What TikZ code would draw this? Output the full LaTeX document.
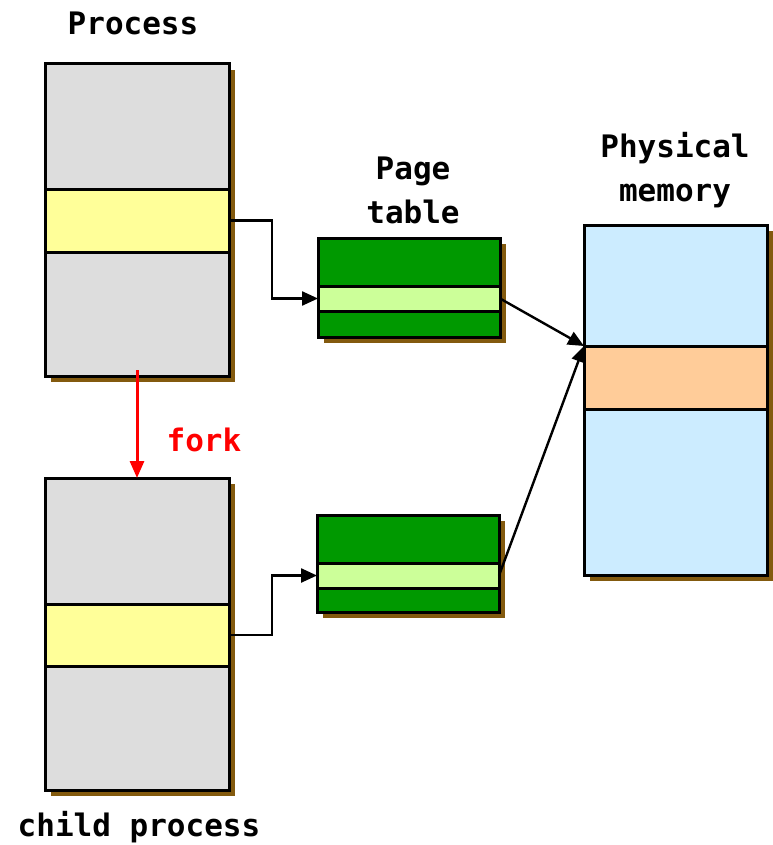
\documentclass[tikz,border=0pt]{standalone}
\usepackage{fontspec}
\setmonofont{DejaVu Sans Mono}
\usetikzlibrary{shadows,arrows.meta}
\definecolor{boxgray}{HTML}{DDDDDD}
\definecolor{bandyellow}{HTML}{FFFF99}
\definecolor{ptgreen}{HTML}{009900}
\definecolor{ptlight}{HTML}{CCFF99}
\definecolor{memblue}{HTML}{CCECFF}
\definecolor{memorange}{HTML}{FFCC99}
\definecolor{shadowbrown}{HTML}{835A0E}
\tikzset{
  box/.style={draw=black, line width=3pt, inner sep=0pt, outer sep=0pt,
    drop shadow={shadow xshift=6pt, shadow yshift=-6pt, fill=shadowbrown, opacity=1}},
  band/.style={draw=black, line width=3pt, inner sep=0pt, outer sep=0pt},
  lbl/.style={font=\ttfamily\bfseries\fontsize{31}{44}\selectfont, align=center, inner sep=0pt},
  conn/.style={line width=2.4pt, -{Triangle[length=16pt,width=14pt]}},
  forkarrow/.style={red, line width=3pt, -{Triangle[length=17pt,width=14pt]}}
}
\begin{document}
\begin{tikzpicture}[x=1pt,y=-1pt]
\path[use as bounding box, fill=white] (0,0) rectangle (772,845);

% Process
\node[box, fill=boxgray, minimum width=184pt, minimum height=312pt] (proc) at (137,220) {};
\node[band, fill=bandyellow, minimum width=184pt, minimum height=63pt] (pband) at (137,220.5) {};
\node[lbl] (ptitle) at (133,23) {Process};

% Child process
\node[box, fill=boxgray, minimum width=184pt, minimum height=312pt] (child) at (137,634) {};
\node[band, fill=bandyellow, minimum width=184pt, minimum height=62pt] (cband) at (137,635) {};
\node[lbl] (ctitle) at (139,827) {child process};

% Page table 1
\node[box, fill=ptgreen, minimum width=182pt, minimum height=99pt] (pt1) at (409,287.5) {};
\node[band, fill=ptlight, minimum width=182pt, minimum height=25pt] (pt1band) at (409,298.5) {};
\node[lbl] (pttitle) at (413,190) {Page\\table};

% Page table 2
\node[box, fill=ptgreen, minimum width=182pt, minimum height=97pt] (pt2) at (408,563.5) {};
\node[band, fill=ptlight, minimum width=182pt, minimum height=25pt] (pt2band) at (408,575.5) {};

% Physical memory
\node[box, fill=memblue, minimum width=183pt, minimum height=350pt] (mem) at (675.5,400) {};
\node[band, fill=memorange, minimum width=183pt, minimum height=63pt] (memband) at (675.5,377.5) {};
\node[lbl] (memtitle) at (675,170) {Physical\\memory};

% connectors
\draw[conn] (pband.east) -- ++(43,0) |- (pt1band.west);
\draw[conn] (cband.east) -- ++(43,0) |- (pt2band.west);
\draw[conn] (pt1band.east) -- (memband.north west);
\draw[conn] (pt2band.east) -- (memband.north west);

% fork
\draw[forkarrow] ([yshift=6pt]proc.south) -- (child.north);
\node[lbl, text=red] (forklbl) at (204,440) {fork};
\end{tikzpicture}
\end{document}
